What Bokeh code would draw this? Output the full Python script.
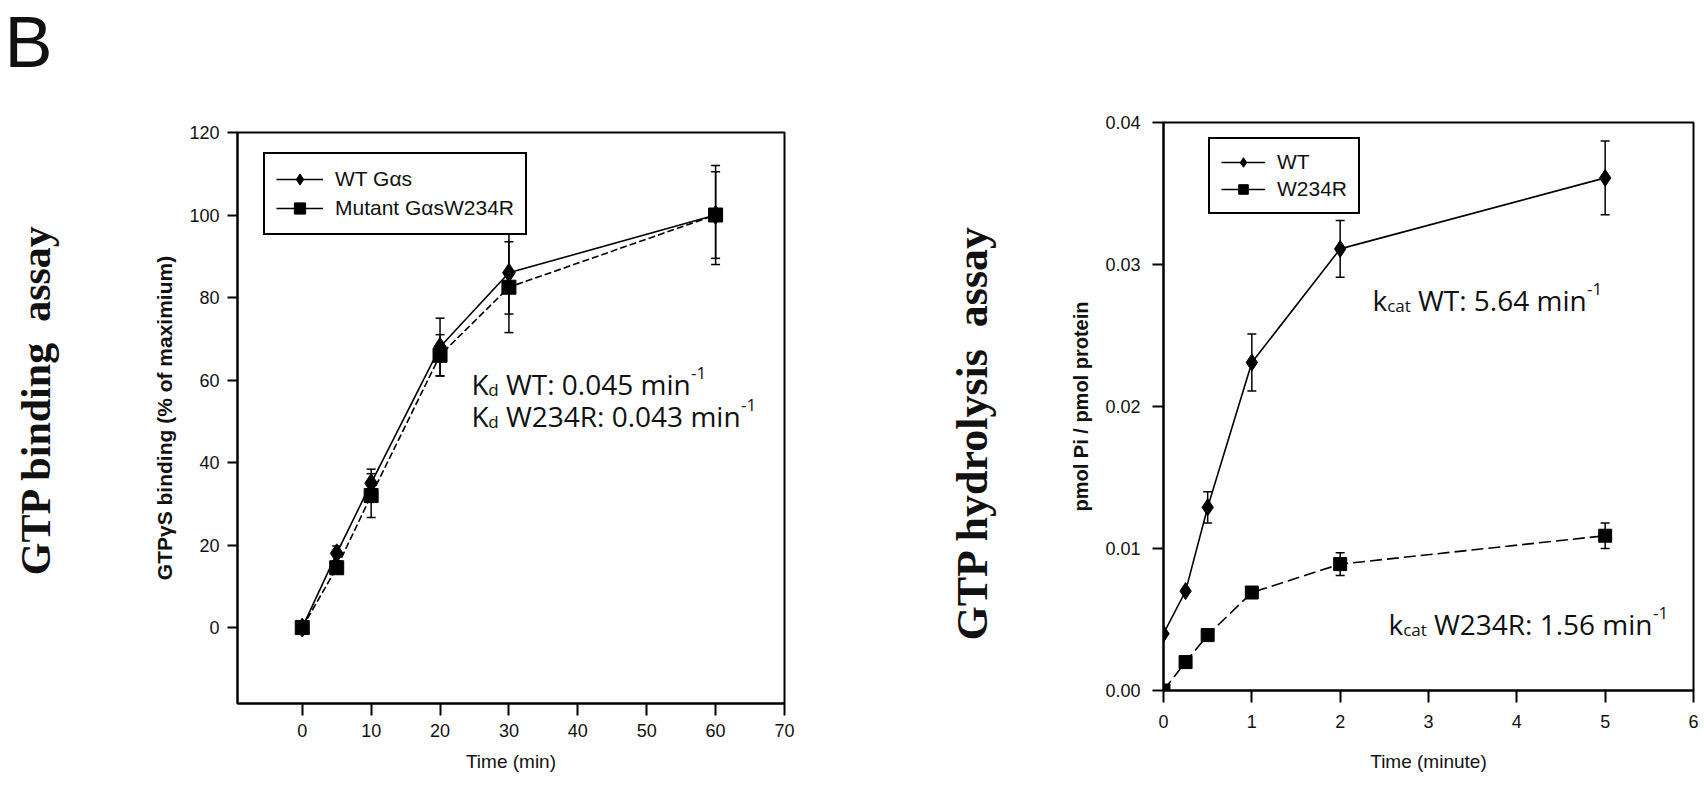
import math
from bokeh.plotting import figure
from bokeh.layouts import row, column
from bokeh.models import (Range1d, FixedTicker, PrintfTickFormatter, Legend, LegendItem,
                          Whisker, TeeHead, ColumnDataSource, Label)
from bokeh.embed import file_html
from bokeh.resources import INLINE

# ---------------- data ----------------
bind_time = [0, 5, 10, 20, 30, 60]
bind_wt = [0, 18, 35, 68, 86, 100]
bind_wt_err = [0, 1.8, 3.4, 7, 10, 12]
bind_mut = [0, 14.5, 32, 66, 82.5, 100]
bind_mut_err = [0, 1.5, 5.3, 5, 11, 10.5]
bind_xticks = [0, 10, 20, 30, 40, 50, 60, 70]
bind_yticks = [0, 20, 40, 60, 80, 100, 120]
bind_names = ["WT G\u03b1s", "Mutant G\u03b1sW234R"]

hyd_time = [0, 0.25, 0.5, 1, 2, 5]
hyd_wt = [0.0040, 0.0070, 0.0129, 0.0231, 0.0311, 0.0361]
hyd_wt_err = [0, 0, 0.0011, 0.0020, 0.0020, 0.0026]
hyd_mut = [0.0, 0.0020, 0.0039, 0.0069, 0.0089, 0.0109]
hyd_mut_err = [0, 0, 0, 0.0003, 0.0008, 0.0009]
hyd_xticks = [0, 1, 2, 3, 4, 5, 6]
hyd_yticks = [0.00, 0.01, 0.02, 0.03, 0.04]
hyd_names = ["WT", "W234R"]

NAN = float("nan")

# ---------------- layout (page pixels) ----------------
H = 792
FR1 = dict(l=237, r=784, t=132, b=703, x0=-9.4, x1=70, y0=-18.4, y1=120, cl=80, cr=900, bb=85)
FR2 = dict(l=1163, r=1693, t=122, b=690, x0=0, x1=6, y0=0, y1=0.04, cl=1000, cr=1704, bb=95)


def to_data(fr, px, py):
    x = fr["x0"] + (px - fr["l"]) / (fr["r"] - fr["l"]) * (fr["x1"] - fr["x0"])
    y = fr["y1"] - (py - fr["t"]) / (fr["b"] - fr["t"]) * (fr["y1"] - fr["y0"])
    return x, y


def make_fig(fr):
    p = figure(title=None, frame_width=fr["r"] - fr["l"], frame_height=fr["b"] - fr["t"],
               x_range=Range1d(fr["x0"], fr["x1"]), y_range=Range1d(fr["y0"], fr["y1"]),
               output_backend="svg", toolbar_location=None,
               min_border_left=fr["l"] - fr["cl"],
               min_border_right=fr["cr"] - fr["r"],
               min_border_top=fr["t"],
               min_border_bottom=fr["bb"])
    p.grid.visible = False
    p.outline_line_color = "black"
    p.outline_line_width = 2
    p.outline_line_alpha = 1
    p.background_fill_color = "white"
    p.border_fill_color = "white"
    for ax in (p.xaxis[0], p.yaxis[0]):
        ax.axis_line_width = 2
        ax.axis_line_color = "black"
        ax.major_tick_line_width = 2
        ax.major_tick_line_color = "black"
        ax.major_tick_in = 0
        ax.minor_tick_in = 0
        ax.minor_tick_out = 0
        ax.major_label_text_font = "Liberation Sans"
        ax.major_label_text_font_size = "18px"
        ax.major_label_text_color = "#111111"
        ax.axis_label_text_font = "Liberation Sans"
        ax.axis_label_text_color = "#111111"
    return p


def text_fig(x_left, x_right):
    # full-height strip whose frame maps page pixels: data x = page x, data y = H - page y
    t = figure(title=None, frame_width=x_right - x_left, frame_height=H,
               x_range=Range1d(x_left, x_right), y_range=Range1d(0, H),
               output_backend="svg", toolbar_location=None,
               min_border_left=0, min_border_right=0, min_border_top=0,
               min_border_bottom=0, x_axis_location=None, y_axis_location=None)
    t.grid.visible = False
    t.outline_line_color = None
    t.background_fill_color = "white"
    t.border_fill_color = "white"
    return t


OPEN_W = {' ': 0.260, '-': 0.322, '.': 0.266, ':': 0.266, 'K': 0.598, 'R': 0.621,
          'T': 0.553, 'W': 0.921, 'a': 0.556, 'c': 0.476, 'd': 0.613, 'i': 0.253,
          'k': 0.525, 'm': 0.930, 'n': 0.614, 't': 0.346}
for ch in "0123456789":
    OPEN_W[ch] = 0.572

BASE_SHIFT = 9   # rendered baseline sits a little lower than the anchor; compensate


def text_w(s, size):
    return sum(OPEN_W.get(c, 0.57) for c in s) * size


def rich_text(p, fr, x_px, base_px, segments, size):
    x = x_px
    for txt, kind in segments:
        s = size if kind == "n" else round(size * 0.62)
        dy = 0 if kind == "n" else (6 if kind == "sub" else -11)
        lead = len(txt) - len(txt.lstrip(' '))
        x += text_w(' ' * lead, s)
        body = txt.lstrip(' ')
        dx_, dy_ = to_data(fr, x, base_px + dy - BASE_SHIFT)
        p.add_layout(Label(x=dx_, y=dy_, text=body, text_font="Open Sans",
                           text_font_size=f"{s}px", text_color="#111111",
                           text_align="left", text_baseline="alphabetic"))
        x += text_w(body, s)


def add_errors(p, xs, ys, errs, head):
    keep = [i for i, e in enumerate(errs) if e > 0]
    src = ColumnDataSource(dict(x=[xs[i] for i in keep],
                                lower=[ys[i] - errs[i] for i in keep],
                                upper=[ys[i] + errs[i] for i in keep]))
    w = Whisker(base="x", lower="lower", upper="upper", source=src,
                line_color="black", line_width=1.5, level="underlay",
                upper_head=TeeHead(size=head, line_color="black", line_width=1.5),
                lower_head=TeeHead(size=head, line_color="black", line_width=1.5))
    p.add_layout(w)


def make_legend(items, fr, box_left, box_bottom, gw, gh, spacing):
    return Legend(items=items, location=(box_left - fr["l"], fr["b"] - box_bottom),
                  padding=11, spacing=spacing, margin=0, glyph_width=gw, glyph_height=gh,
                  label_height=gh, label_standoff=12,
                  label_text_font="Liberation Sans", label_text_font_size="21px",
                  label_text_color="#111111",
                  border_line_color="black", border_line_width=2, border_line_alpha=1,
                  background_fill_color="white", background_fill_alpha=1)


# ---------------- left figure: GTP binding ----------------
p1 = make_fig(FR1)
p1.xaxis.ticker = FixedTicker(ticks=bind_xticks)
p1.yaxis.ticker = FixedTicker(ticks=bind_yticks)
p1.xaxis.major_tick_out = 12
p1.xaxis.major_label_standoff = 8
p1.xaxis.axis_label = "Time (min)"
p1.xaxis.axis_label_text_font_style = "normal"
p1.xaxis.axis_label_text_font_size = "19px"
p1.xaxis.axis_label_standoff = 11
p1.yaxis.major_tick_out = 10
p1.yaxis.major_label_standoff = 8
p1.yaxis.axis_label = "GTP\u03b3S binding (% of maximium)"
p1.yaxis.axis_label_text_font_style = "bold"
p1.yaxis.axis_label_text_font_size = "21px"
p1.yaxis.axis_label_standoff = 10

add_errors(p1, bind_time, bind_wt, bind_wt_err, 9)
add_errors(p1, bind_time, bind_mut, bind_mut_err, 9)
p1.line(bind_time, bind_wt, line_color="black", line_width=1.6)
p1.line(bind_time, bind_mut, line_color="black", line_width=1.6, line_dash="7 3")
s1a = p1.scatter(bind_time, bind_wt, marker="diamond", size=19, fill_color="black", line_color="black")
s1b = p1.scatter(bind_time, bind_mut, marker="square", size=14, fill_color="black", line_color="black")
pr1a = p1.line(x=[NAN], y=[NAN], line_color="black", line_width=1.6)
pr1b = p1.line(x=[NAN], y=[NAN], line_color="black", line_width=1.6)
p1.add_layout(make_legend([LegendItem(label=bind_names[0], renderers=[pr1a, s1a]),
                           LegendItem(label=bind_names[1], renderers=[pr1b, s1b])],
                          FR1, 263, 235, 47, 28, 1))

rich_text(p1, FR1, 471, 392, [("K", "n"), ("d", "sub"), (" WT: 0.045 min", "n"), ("-1", "sup")], 28)
rich_text(p1, FR1, 471, 424, [("K", "n"), ("d", "sub"), (" W234R: 0.043 min", "n"), ("-1", "sup")], 28)

# ---------------- right figure: GTP hydrolysis ----------------
p2 = make_fig(FR2)
p2.xaxis.ticker = FixedTicker(ticks=hyd_xticks)
p2.yaxis.ticker = FixedTicker(ticks=hyd_yticks)
p2.yaxis.formatter = PrintfTickFormatter(format="%.2f")
p2.xaxis.major_tick_out = 12
p2.xaxis.major_label_standoff = 12
p2.xaxis.axis_label = "Time (minute)"
p2.xaxis.axis_label_text_font_style = "normal"
p2.xaxis.axis_label_text_font_size = "19px"
p2.xaxis.axis_label_standoff = 20
p2.yaxis.major_tick_out = 11
p2.yaxis.major_label_standoff = 12
p2.yaxis.axis_label = "pmol Pi / pmol protein"
p2.yaxis.axis_label_text_font_style = "bold"
p2.yaxis.axis_label_text_font_size = "20px"
p2.yaxis.axis_label_standoff = 10

add_errors(p2, hyd_time, hyd_wt, hyd_wt_err, 9)
add_errors(p2, hyd_time, hyd_mut, hyd_mut_err, 9)
p2.line(hyd_time, hyd_wt, line_color="black", line_width=1.6)
p2.line(hyd_time, hyd_mut, line_color="black", line_width=1.6, line_dash="12 5")
s2a = p2.scatter(hyd_time, hyd_wt, marker="diamond", size=17, fill_color="black", line_color="black")
s2b = p2.scatter(hyd_time, hyd_mut, marker="square", size=13, fill_color="black", line_color="black")
pr2a = p2.line(x=[NAN], y=[NAN], line_color="black", line_width=1.6)
pr2b = p2.line(x=[NAN], y=[NAN], line_color="black", line_width=1.6)
p2.add_layout(make_legend([LegendItem(label=hyd_names[0], renderers=[pr2a, s2a]),
                           LegendItem(label=hyd_names[1], renderers=[pr2b, s2b])],
                          FR2, 1208, 214, 44, 24, 3))

rich_text(p2, FR2, 1372, 308, [("k", "n"), ("cat", "sub"), (" WT: 5.64 min", "n"), ("-1", "sup")], 28)
rich_text(p2, FR2, 1388, 632, [("k", "n"), ("cat", "sub"), (" W234R: 1.56 min", "n"), ("-1", "sup")], 28)

# ---------------- side texts ----------------
t1 = text_fig(0, FR1["cl"])
t1.add_layout(Label(x=4, y=H - 41, text="B", text_font="Liberation Sans", text_font_size="72px",
                    text_color="#111111", text_align="left", text_baseline="alphabetic"))
t1.add_layout(Label(x=35, y=H - 399, text="GTP binding\u00a0 assay", text_font="Liberation Serif",
                    text_font_style="bold", text_font_size="42px", text_color="#111111",
                    angle=math.pi / 2, text_align="center", text_baseline="alphabetic"))

t2 = text_fig(FR1["cr"], FR2["cl"])
t2.add_layout(Label(x=972, y=H - 432, text="GTP hydrolysis\u00a0 assay", text_font="Liberation Serif",
                    text_font_style="bold", text_font_size="44px", text_color="#111111",
                    angle=math.pi / 2, text_align="center", text_baseline="alphabetic"))

layout = row(column(t1), p1, column(t2), column(p2))
open("out.html", "w").write(file_html(layout, INLINE))
